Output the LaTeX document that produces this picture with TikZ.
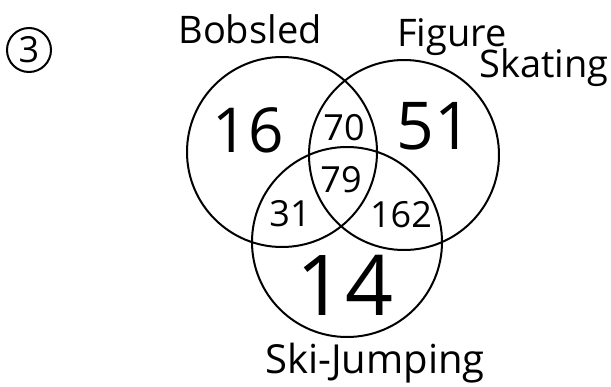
\documentclass[tikz,border=0pt]{standalone}
\usepackage{fontspec}
\setmainfont{Open Sans}
\usetikzlibrary{positioning}
\tikzset{
  setcircle/.style={circle, draw, line width=2pt, minimum size=190pt, inner sep=0pt},
  bignum/.style={font=\fontsize{62}{62}\selectfont, inner sep=0pt},
  smallnum/.style={font=\fontsize{36}{36}\selectfont, inner sep=0pt},
  setlabel/.style={font=\fontsize{38}{38}\selectfont, inner sep=0pt, anchor=base}
}
\begin{document}
\begin{tikzpicture}[x=1pt, y=-1pt]
    \useasboundingbox (0,0) rectangle (611,386);
    % problem number
    \node[circle, draw, line width=2pt, minimum size=44pt, inner sep=0pt,
      font=\fontsize{36}{36}\selectfont] (num) at (29,50) {3};

    % the three sets
    \node[setcircle] (bob) at (282,152) {};
    \node[setcircle] (fig) at (404,155) {};
    \node[setcircle] (ski) at (347,242) {};

    % set names
    \node[setlabel] (boblabel) at (250,43) {Bobsled};
    \node[setlabel] (figlabel) at (452,46) {Figure};
    \node[setlabel] (skatelabel) at (544,77) {Skating};
    \node[setlabel, font=\fontsize{40}{40}\selectfont] (skilabel) at (375,373) {Ski-Jumping};

    % region counts
    \node[bignum] (onlybob) at (248,130) {16};
    \node[bignum, font=\fontsize{66}{66}\selectfont] (onlyfig) at (434,126) {51};
    \node[bignum, font=\fontsize{84}{84}\selectfont] (onlyski) at (345,285) {14};
    \node[smallnum] (bobfig) at (344,128) {70};
    \node[smallnum] (all) at (341,180) {79};
    \node[smallnum] (bobski) at (290,214) {31};
    \node[smallnum] (figski) at (401,215) {162};
\end{tikzpicture}
\end{document}
